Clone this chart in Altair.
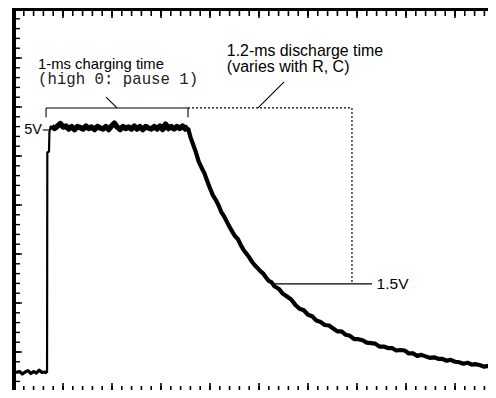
import altair as alt
import numpy as np
import pandas as pd

# ---------------- trace readings (time in ms, voltage in V) ----------------
baseline_t = [0.014, 0.04, 0.06, 0.08, 0.10, 0.12, 0.14, 0.16, 0.18, 0.20, 0.22, 0.236]
baseline_v = [0.01, 0.03, -0.02, 0.02, 0.05, -0.01, 0.03, 0.00, 0.06, 0.01, 0.02, 0.00]

rise_t = [0.236, 0.238, 0.250, 0.253, 0.262, 0.275]
rise_v = [0.00, 4.50, 4.52, 4.92, 5.03, 5.03]

plateau_v = [5.03, 4.99, 5.04, 5.09, 5.02, 5.04, 4.98, 5.03, 4.97, 5.03,
             5.01, 4.98, 5.04, 4.99, 5.02, 4.97, 5.03, 5.00, 4.98, 5.03,
             4.97, 5.04, 5.10, 5.02, 4.97, 5.03, 4.99, 5.02, 4.98, 5.04,
             4.98, 5.03, 4.97, 5.03, 5.00, 4.98, 5.03, 4.98, 5.04, 4.97,
             5.08, 4.99, 5.03, 4.98, 5.03, 4.99, 5.04, 4.98, 5.03]
plateau_t = list(np.round(np.linspace(0.27, 1.245, len(plateau_v)), 4))

decay_t = [1.243, 1.26, 1.28, 1.30, 1.32, 1.34, 1.36, 1.38, 1.40, 1.42, 1.44, 1.46,
           1.48, 1.50, 1.52, 1.54, 1.56, 1.58, 1.60, 1.62, 1.64, 1.66, 1.68, 1.70,
           1.72, 1.74, 1.76, 1.78, 1.80, 1.82, 1.84, 1.86,
           1.89, 1.92, 1.95, 1.98, 2.01, 2.04, 2.07, 2.10, 2.13, 2.16, 2.19, 2.22,
           2.25, 2.28, 2.31, 2.34, 2.37, 2.40, 2.43, 2.46, 2.49, 2.52, 2.55, 2.58,
           2.61, 2.64, 2.67, 2.70, 2.73, 2.76, 2.79, 2.82, 2.85, 2.88, 2.91, 2.94,
           2.97, 3.00, 3.03, 3.06, 3.09, 3.12, 3.15, 3.18, 3.21, 3.24, 3.27, 3.30,
           3.33, 3.36, 3.39, 3.42]
decay_v = [5.00, 4.82, 4.66, 4.50, 4.31, 4.19, 4.08, 3.92, 3.77, 3.63, 3.54, 3.43,
           3.29, 3.20, 3.09, 2.98, 2.88, 2.79, 2.73, 2.61, 2.51, 2.44, 2.36, 2.27,
           2.20, 2.14, 2.08, 2.03, 1.95, 1.88, 1.85, 1.77,
           1.72, 1.62, 1.56, 1.50, 1.39, 1.31, 1.28, 1.19, 1.16, 1.07, 1.04, 0.98,
           0.97, 0.91, 0.85, 0.85, 0.78, 0.76, 0.69, 0.69, 0.67, 0.62, 0.61, 0.60,
           0.54, 0.54, 0.51, 0.51, 0.46, 0.47, 0.46, 0.40, 0.40, 0.35, 0.37, 0.34,
           0.31, 0.32, 0.29, 0.29, 0.25, 0.27, 0.23, 0.22, 0.19, 0.21, 0.17, 0.18,
           0.16, 0.13, 0.15, 0.12]

# ---------------- annotation texts & anchors (data units) ----------------
left_labels = ["5V", "1-ms charging time"]
left_t = [0.20, 0.172]
left_v = [4.96, 6.204]
left_align = ["right", "left"]
left_base = ["middle", "alphabetic"]
left_size = [14.5, 14.8]

right_labels = ["1.5V", "1.2-ms discharge time", "(varies with R, C)"]
right_t = [2.59, 1.52, 1.52]
right_v = [1.82, 6.460, 6.143]
right_base = ["middle", "alphabetic", "alphabetic"]
right_size = [15.5, 15.9, 16.0]

mono_label = "(high 0: pause 1)"
mono_t = 0.172
mono_v = 5.898

# solid annotation segments: t1, v1, t2, v2
seg_t1 = [0.229, 0.229, 1.243, 0.736, 1.743, 1.836, 0.205]
seg_v1 = [5.41, 5.41, 5.41, 5.41, 5.41, 1.82, 4.96]
seg_t2 = [1.243, 0.229, 1.243, 0.657, 1.929, 2.557, 0.257]
seg_v2 = [5.41, 5.22, 5.22, 5.63, 5.94, 1.82, 4.96]

# dotted segments
dot_t1 = [1.243, 2.414]
dot_v1 = [5.41, 5.41]
dot_t2 = [2.414, 2.414]
dot_v2 = [5.41, 1.82]

# ---------------- scales / geometry ----------------
W, H = 474, 381
PX_PER_MS, PX_PER_V = 140.0, 49.0
YTOP = 7.429
XDOM = [0, W / PX_PER_MS]
YDOM = [YTOP - H / PX_PER_V, YTOP]
xs = alt.Scale(domain=XDOM, nice=False, zero=False)
ys = alt.Scale(domain=YDOM, nice=False, zero=False)

X = lambda f: alt.X(f, scale=xs, axis=None)
Y = lambda f: alt.Y(f, scale=ys, axis=None)

xm = np.round(np.arange(0.07, XDOM[1], 0.07), 4)
xM = np.round(np.arange(0.35, XDOM[1], 0.35), 4)
ym = np.round(np.arange(YTOP, YDOM[0], -0.2), 4)
yM = np.round(np.arange(YTOP, YDOM[0], -1.0), 4)
dv = 1.0 / PX_PER_V
dt = 1.0 / PX_PER_MS
hw = 0.8 * dt  # half tick width

def vticks(pos, a, b):
    return pd.DataFrame({"t1": pos - hw, "t2": pos + hw, "a": a, "b": b})

top_minor = vticks(xm, YTOP, YTOP - 7 * dv)
top_major = vticks(xM, YTOP, YTOP - 9 * dv)
bot_minor = vticks(xm, YDOM[0], YDOM[0] + 4 * dv)
bot_major = vticks(xM, YDOM[0], YDOM[0] + 7 * dv)
left_minor = pd.DataFrame({"v1": ym - 0.7 * dv, "v2": ym + 0.7 * dv, "a": 0.0, "b": 6 * dt})
left_major = pd.DataFrame({"v1": yM - 0.7 * dv, "v2": yM + 0.7 * dv, "a": 0.0, "b": 8 * dt})

layers = []
# frame: top and left borders (as filled bands)
frame_h = pd.DataFrame({"t1": [-2 * dt], "t2": [XDOM[1]], "a": [YTOP + 2 * dv], "b": [YTOP - 2 * dv]})
frame_v = pd.DataFrame({"t1": [-2 * dt], "t2": [2 * dt], "a": [YTOP + 2 * dv], "b": [YDOM[0]]})

for df in (frame_h, frame_v, top_minor, top_major, bot_minor, bot_major):
    layers.append(alt.Chart(df).mark_rect(color="black").encode(
        x=X("t1:Q"), x2="t2:Q", y=Y("a:Q"), y2="b:Q"))
for df in (left_minor, left_major):
    layers.append(alt.Chart(df).mark_rect(color="black").encode(
        x=X("a:Q"), x2="b:Q", y=Y("v1:Q"), y2="v2:Q"))

# trace segments
def seg(tt, vv, sw):
    df = pd.DataFrame({"t": tt, "v": vv, "i": range(len(tt))})
    return alt.Chart(df).mark_line(color="black", strokeWidth=sw, clip=True,
                                   strokeJoin="round").encode(
        x=X("t:Q"), y=Y("v:Q"), order="i:Q")

layers.append(seg(baseline_t, baseline_v, 3.2))
layers.append(seg(rise_t, rise_v, 2.2))
layers.append(seg(plateau_t, plateau_v, 5.5))
layers.append(seg(decay_t, decay_v, 4.2))

# annotation lines
segs = pd.DataFrame({"t1": seg_t1, "v1": seg_v1, "t2": seg_t2, "v2": seg_v2})
layers.append(alt.Chart(segs).mark_rule(color="black", strokeWidth=1.1).encode(
    x=X("t1:Q"), y=Y("v1:Q"), x2="t2:Q", y2="v2:Q"))
dots = pd.DataFrame({"t1": dot_t1, "v1": dot_v1, "t2": dot_t2, "v2": dot_v2})
layers.append(alt.Chart(dots).mark_rule(color="black", strokeWidth=1.2, strokeDash=[2, 2]).encode(
    x=X("t1:Q"), y=Y("v1:Q"), x2="t2:Q", y2="v2:Q"))

# labels
for lab, t, v, a, b, fs in zip(left_labels, left_t, left_v, left_align, left_base, left_size):
    df = pd.DataFrame({"t": [t], "v": [v], "s": [lab]})
    layers.append(alt.Chart(df).mark_text(align=a, baseline=b, font="Liberation Sans",
                                          fontSize=fs, color="black").encode(
        x=X("t:Q"), y=Y("v:Q"), text="s:N"))
for lab, t, v, b, fs in zip(right_labels, right_t, right_v, right_base, right_size):
    df = pd.DataFrame({"t": [t], "v": [v], "s": [lab]})
    layers.append(alt.Chart(df).mark_text(align="left", baseline=b, font="Liberation Sans",
                                          fontSize=fs, color="black").encode(
        x=X("t:Q"), y=Y("v:Q"), text="s:N"))
mdf = pd.DataFrame({"t": [mono_t], "v": [mono_v], "s": [mono_label]})
layers.append(alt.Chart(mdf).mark_text(align="left", baseline="alphabetic", font="Liberation Mono",
                                       fontSize=15.7, color="#222222").encode(
    x=X("t:Q"), y=Y("v:Q"), text="s:N"))

chart = alt.layer(*layers).properties(
    width=W, height=H,
    autosize=alt.AutoSizeParams(type="none"),
    padding={"left": 6, "top": 1, "right": 0, "bottom": 0},
    background="white",
).configure_view(stroke="transparent")

chart.save("out.html", embed_options={"renderer": "svg", "actions": False})
